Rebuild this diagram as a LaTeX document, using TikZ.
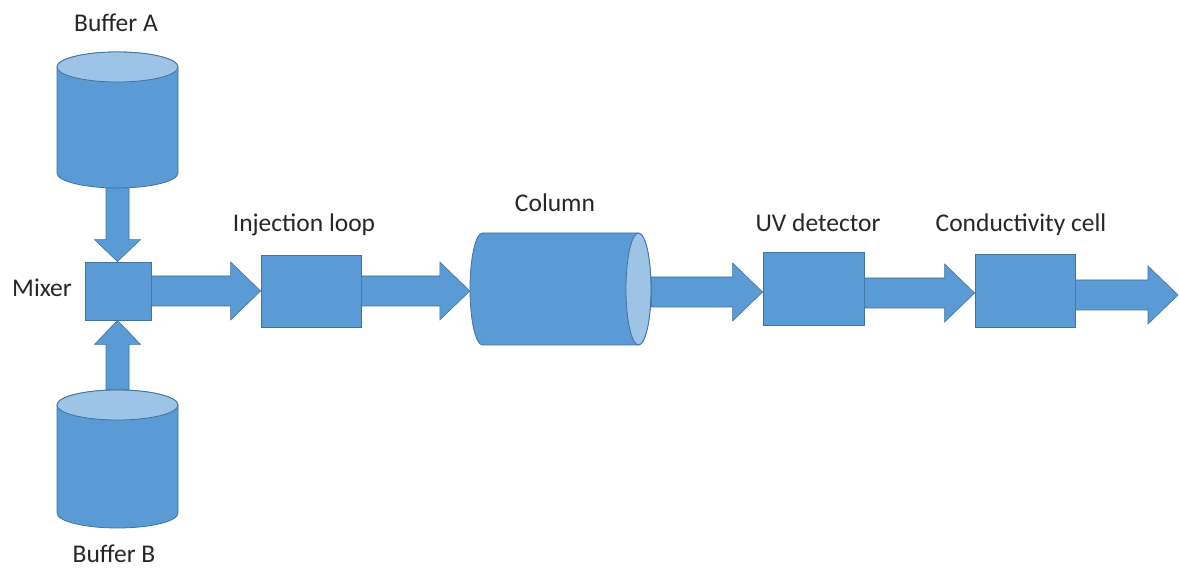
\documentclass[tikz,border=0pt]{standalone}
\usepackage{fontspec}
\setmainfont{Carlito}
\usetikzlibrary{calc}
\definecolor{fillblue}{HTML}{5B9BD5}
\definecolor{edgeblue}{HTML}{41719C}
\definecolor{lightblue}{HTML}{9DC3E6}
\tikzset{
  box/.style={draw=edgeblue, fill=fillblue, line width=0.8pt, inner sep=0pt},
  area/.style={inner sep=0pt},
  lbl/.style={anchor=base, inner sep=0pt, font=\fontsize{25.5}{30}\selectfont, text=black!85},
  harrow/.style={draw=edgeblue, fill=fillblue, line width=0.6pt,
    to path={let \p1=(\tikztostart), \p2=(\tikztotarget) in
      (\x1,\y1+15pt) -- (\x2-30pt,\y1+15pt) -- (\x2-30pt,\y1+29pt) -- (\x2,\y1)
      -- (\x2-30pt,\y1-29pt) -- (\x2-30pt,\y1-15pt) -- (\x1,\y1-15pt) -- cycle}},
  downarrow/.style={draw=edgeblue, fill=fillblue, line width=0.6pt,
    to path={let \p1=(\tikztostart), \p2=(\tikztotarget) in
      (\x1-11.5pt,\y1) -- (\x1-11.5pt,\y2+22pt) -- (\x1-23pt,\y2+22pt) -- (\x1,\y2)
      -- (\x1+23pt,\y2+22pt) -- (\x1+11.5pt,\y2+22pt) -- (\x1+11.5pt,\y1) -- cycle}},
  uparrow/.style={draw=edgeblue, fill=fillblue, line width=0.6pt,
    to path={let \p1=(\tikztostart), \p2=(\tikztotarget) in
      (\x1-11.5pt,\y1) -- (\x1-11.5pt,\y2-24pt) -- (\x1-23pt,\y2-24pt) -- (\x1,\y2)
      -- (\x1+23pt,\y2-24pt) -- (\x1+11.5pt,\y2-24pt) -- (\x1+11.5pt,\y1) -- cycle}},
  cyl/.style={draw=edgeblue, fill=fillblue, line width=0.8pt},
  cylend/.style={draw=edgeblue, fill=lightblue, line width=0.8pt}
}
\begin{document}
\begin{tikzpicture}[x=1pt, y=1pt]
\useasboundingbox (0,0) rectangle (1179,569);
% buffer A cylinder
\node[area, minimum width=121pt, minimum height=136pt] (bufA) at (117.5,449) {};
\path[cyl] (57,502) -- (57,396) arc[start angle=180, end angle=360, x radius=60.5, y radius=15]
  -- (178,502) arc[start angle=0, end angle=180, x radius=60.5, y radius=15] -- cycle;
\path[cylend] (117.5,502) ellipse [x radius=60.5, y radius=15];
% buffer B cylinder
\node[area, minimum width=121pt, minimum height=138pt] (bufB) at (117.5,110) {};
\path[cyl] (57,164) -- (57,56) arc[start angle=180, end angle=360, x radius=60.5, y radius=15]
  -- (178,164) arc[start angle=0, end angle=180, x radius=60.5, y radius=15] -- cycle;
\path[cylend] (117.5,164) ellipse [x radius=60.5, y radius=15];
% column
\node[area, minimum width=181pt, minimum height=112pt] (col) at (560.5,280) {};
\path[cyl] (482.5,336) -- (638.5,336) arc[start angle=90, end angle=-90, x radius=12.5, y radius=56]
  -- (482.5,224) arc[start angle=270, end angle=90, x radius=12.5, y radius=56] -- cycle;
\path[cylend] (638.5,280) ellipse [x radius=12.5, y radius=56];
% boxes
\node[box, minimum width=66pt, minimum height=58pt] (mixer) at (118,278) {};
\node[box, minimum width=100pt, minimum height=72pt] (inj) at (311,278) {};
\node[box, minimum width=101pt, minimum height=73pt] (uv) at (813.5,280.5) {};
\node[box, minimum width=100pt, minimum height=73pt] (cond) at (1025,278.5) {};
\coordinate (out) at (1178,274);
% arrows
\path[downarrow] (bufA.south) to (mixer.north);
\path[uparrow] (bufB.north) to (mixer.south);
\path[harrow] (mixer.east) to (inj.west);
\path[harrow] (inj.east) to (col.west);
\path[harrow] ([yshift=-3pt]col.east) to (uv.west);
\path[harrow] ([yshift=-4.5pt]uv.east) to (cond.west);
\path[harrow] ([yshift=-4.5pt]cond.east) to (out);
% labels
\node[lbl] (lA) at (116,537) {Buffer A};
\node[lbl] (lB) at (114,6) {Buffer B};
\node[lbl] (lM) at (42,272) {Mixer};
\node[lbl] (lI) at (304,337) {Injection loop};
\node[lbl] (lC) at (555,357) {Column};
\node[lbl] (lU) at (818,337) {UV detector};
\node[lbl] (lK) at (1021,337) {Conductivity cell};
\end{tikzpicture}
\end{document}
